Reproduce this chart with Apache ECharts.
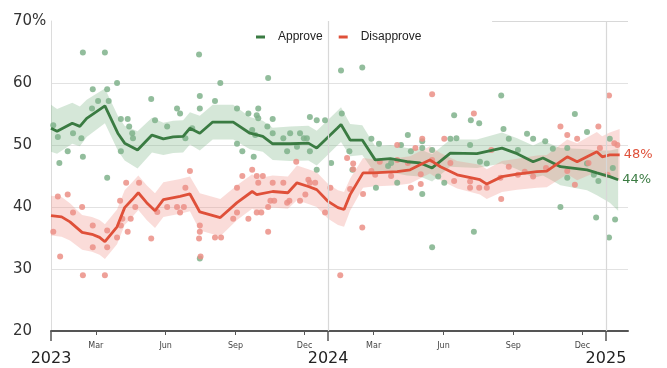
<!DOCTYPE html>
<html lang="en">
<head>
<meta charset="UTF-8" />
<title>Approve / Disapprove</title>
<script src="https://cdn.jsdelivr.net/npm/echarts@6/dist/echarts.min.js"></script>
<style>
  * { margin: 0; padding: 0; }
  html, body, #chart { width: 667px; height: 368px; background: #fff; overflow: hidden; }
</style>
</head>
<body>
<div id="chart"></div>
<script>
// trend lines (smoothed average) with half-width of the shaded band
const approveDates = ['2023-01-01','2023-01-09','2023-01-29','2023-02-08','2023-02-17','2023-03-13','2023-03-30','2023-04-08','2023-04-25','2023-05-14','2023-05-29','2023-06-11','2023-06-24','2023-07-03','2023-07-16','2023-08-02','2023-08-29','2023-09-20','2023-10-07','2023-10-20','2023-11-12','2023-12-06','2023-12-17','2023-12-28','2024-01-13','2024-01-18','2024-01-30','2024-02-15','2024-03-03','2024-03-23','2024-04-14','2024-05-01','2024-05-17','2024-06-10','2024-07-15','2024-08-17','2024-09-06','2024-09-27','2024-10-10','2024-11-02','2024-12-07','2024-12-20','2025-01-06','2025-01-17'];
const approveTrend = [52.7,52.2,53.5,53.0,54.3,56.3,51.9,50.3,49.2,51.6,51.0,51.3,51.4,52.7,51.9,53.7,53.7,51.9,51.4,50.2,50.2,50.3,49.5,50.8,52.7,53.3,50.8,50.8,47.6,47.8,47.3,47.1,46.3,48.7,48.6,49.5,48.6,47.3,47.9,46.5,46.0,45.5,44.9,44.4];
const approveBand = [3.8,3.6,3.3,3.2,3.0,2.8,2.8,2.8,3.0,2.8,2.6,2.6,2.6,2.6,2.8,2.8,2.8,2.6,2.5,2.6,2.8,2.8,2.8,2.8,2.8,2.8,2.6,2.4,2.2,2.2,2.2,2.2,2.2,2.2,2.3,2.5,2.5,2.6,2.8,3.0,3.3,3.6,4.2,5.0];

const disapproveDates = ['2023-01-01','2023-01-15','2023-01-26','2023-02-11','2023-02-24','2023-03-06','2023-03-13','2023-03-29','2023-04-08','2023-04-18','2023-04-26','2023-05-07','2023-05-18','2023-05-29','2023-06-20','2023-07-03','2023-07-16','2023-08-12','2023-09-03','2023-09-23','2023-09-29','2023-10-20','2023-11-09','2023-11-21','2023-12-06','2023-12-17','2024-01-01','2024-01-14','2024-01-22','2024-01-30','2024-02-16','2024-02-29','2024-04-01','2024-04-18','2024-05-01','2024-05-14','2024-05-28','2024-06-19','2024-07-19','2024-07-28','2024-08-17','2024-09-06','2024-10-02','2024-10-15','2024-11-11','2024-11-24','2024-12-20','2024-12-27','2025-01-06','2025-01-19'];
const disapproveTrend = [38.6,38.4,37.6,35.9,35.6,35.1,34.4,36.8,39.9,41.2,42.3,40.7,39.4,41.2,41.7,42.1,39.2,38.3,40.7,42.5,42.0,42.5,42.3,43.9,43.3,42.8,40.9,39.9,39.6,42.0,45.5,45.5,45.7,46.0,46.8,47.6,46.5,45.2,44.4,43.7,44.9,45.3,45.7,45.8,48.1,47.3,48.9,48.1,48.4,48.4];
const disapproveBand = [3.2,3.2,3.0,2.8,2.8,2.8,2.8,2.8,2.8,2.8,2.8,2.8,2.8,2.8,2.8,2.8,3.0,3.0,2.8,2.8,2.6,2.6,2.6,2.8,2.8,2.8,2.8,2.8,2.8,2.6,2.4,2.2,2.2,2.2,2.2,2.2,2.2,2.2,2.4,2.4,2.5,2.5,2.6,2.6,2.8,3.0,3.2,3.3,3.6,4.2];

// individual polls
const approvePolls = [
  ['2023-01-04',53.2],['2023-01-10',51.3],['2023-01-12',47.1],['2023-01-23',49.0],['2023-01-30',51.9],['2023-02-10',51.1],
  ['2023-02-12',64.9],['2023-02-12',48.1],['2023-02-24',55.9],['2023-02-25',59.0],['2023-03-04',57.1],['2023-03-13',64.9],
  ['2023-03-16',59.0],['2023-03-18',57.1],['2023-03-16',44.7],['2023-03-29',60.0],['2023-04-03',54.2],['2023-04-12',54.2],
  ['2023-04-14',53.0],['2023-04-18',51.9],['2023-04-19',51.1],['2023-04-03',49.0],['2023-05-13',57.4],['2023-05-18',54.0],
  ['2023-06-03',53.0],['2023-06-16',55.9],['2023-06-20',55.1],['2023-06-27',51.1],['2023-07-06',52.7],['2023-07-15',64.6],
  ['2023-07-16',57.9],['2023-07-16',55.9],['2023-07-16',31.7],['2023-08-05',57.1],['2023-08-12',60.0],['2023-09-03',55.9],
  ['2023-09-03',50.2],['2023-09-10',49.0],['2023-09-18',55.1],['2023-09-23',52.4],['2023-09-25',48.1],['2023-09-27',51.6],
  ['2023-09-29',54.8],['2023-10-01',55.9],['2023-10-01',54.3],['2023-10-13',53.0],['2023-10-14',60.8],['2023-10-20',54.2],
  ['2023-10-20',51.9],['2023-11-03',51.1],['2023-11-08',49.0],['2023-11-12',51.9],['2023-11-21',49.7],['2023-11-25',51.9],
  ['2023-11-30',51.1],['2023-12-04',51.1],['2023-12-08',54.5],['2023-12-08',49.0],['2023-12-17',54.0],['2023-12-17',46.0],
  ['2023-12-28',54.0],['2024-01-05',47.1],['2024-01-18',62.0],['2024-01-19',55.1],['2024-01-29',49.0],['2024-02-02',46.0],
  ['2024-02-15',62.5],['2024-02-27',51.0],['2024-03-04',43.1],['2024-03-08',50.2],['2024-03-20',46.6],['2024-03-24',47.1],
  ['2024-04-01',43.9],['2024-04-06',50.0],['2024-04-15',51.6],['2024-04-19',49.0],['2024-05-04',50.6],['2024-05-04',49.5],
  ['2024-05-04',42.1],['2024-05-17',49.2],['2024-05-17',33.5],['2024-05-25',44.9],['2024-06-02',43.9],['2024-06-10',51.0],
  ['2024-06-15',54.8],['2024-06-18',51.1],['2024-07-06',50.0],['2024-07-07',54.0],['2024-07-11',36.0],['2024-07-18',53.5],
  ['2024-07-19',47.3],['2024-07-28',47.0],['2024-08-16',58.0],['2024-08-19',52.6],['2024-08-26',51.0],['2024-09-07',49.2],
  ['2024-09-19',51.8],['2024-09-27',51.0],['2024-10-13',50.6],['2024-10-23',49.4],['2024-11-02',40.0],['2024-11-11',49.5],
  ['2024-11-11',44.7],['2024-11-21',55.0],['2024-12-07',52.1],['2024-12-07',47.0],['2024-12-16',45.2],['2024-12-19',38.3],
  ['2024-12-22',44.2],['2025-01-05',35.1],['2025-01-06',51.0],['2025-01-10',46.3],['2025-01-13',38.0]
];
const disapprovePolls = [
  ['2023-01-04',36.0],['2023-01-10',41.7],['2023-01-13',32.0],['2023-01-23',42.0],['2023-01-30',39.1],['2023-02-11',40.0],
  ['2023-02-12',29.0],['2023-02-25',37.0],['2023-02-25',33.5],['2023-03-13',29.0],['2023-03-16',36.2],['2023-03-16',33.5],
  ['2023-03-29',35.1],['2023-04-02',41.0],['2023-04-03',37.0],['2023-04-05',38.1],['2023-04-10',43.9],['2023-04-12',36.0],
  ['2023-04-16',38.1],['2023-04-22',40.0],['2023-04-27',43.9],['2023-05-13',34.9],['2023-05-21',39.2],['2023-06-03',40.0],
  ['2023-06-16',40.0],['2023-06-20',39.1],['2023-06-25',40.0],['2023-06-27',43.1],['2023-07-03',45.8],['2023-07-16',37.0],
  ['2023-07-16',36.0],['2023-07-15',34.9],['2023-07-17',32.0],['2023-08-05',35.1],['2023-08-13',35.1],['2023-08-29',38.1],
  ['2023-09-03',39.1],['2023-09-03',43.1],['2023-09-10',45.0],['2023-09-18',38.1],['2023-09-23',46.0],['2023-09-29',39.1],
  ['2023-09-29',45.0],['2023-10-01',43.9],['2023-10-05',39.1],['2023-10-07',45.0],['2023-10-14',36.0],['2023-10-14',40.0],
  ['2023-10-17',41.0],['2023-10-22',41.0],['2023-10-20',43.9],['2023-11-03',43.9],['2023-11-08',40.7],['2023-11-11',41.0],
  ['2023-11-20',47.3],['2023-11-25',41.0],['2023-12-02',42.0],['2023-12-06',44.4],['2023-12-08',43.9],['2023-12-15',43.9],
  ['2023-12-28',39.1],['2024-01-04',43.1],['2024-01-17',29.0],['2024-01-26',47.9],['2024-01-30',42.9],['2024-02-03',47.0],
  ['2024-02-03',46.1],['2024-02-15',36.7],['2024-02-16',42.1],['2024-02-27',45.8],['2024-03-03',45.2],['2024-03-09',47.3],
  ['2024-03-24',45.0],['2024-04-01',50.0],['2024-04-01',47.6],['2024-04-15',47.1],['2024-04-19',43.1],['2024-04-25',49.5],
  ['2024-05-02',45.3],['2024-05-02',43.7],['2024-05-04',51.0],['2024-05-17',58.2],['2024-05-17',47.6],['2024-06-02',51.0],
  ['2024-06-10',47.1],['2024-06-15',44.2],['2024-07-06',44.1],['2024-07-06',43.1],['2024-07-11',55.1],['2024-07-18',43.1],
  ['2024-07-28',43.1],['2024-08-03',49.2],['2024-08-15',44.7],['2024-08-16',41.3],['2024-08-26',46.5],['2024-09-07',45.2],
  ['2024-09-16',45.7],['2024-09-27',44.9],['2024-10-14',46.3],['2024-11-02',53.0],['2024-11-11',51.6],['2024-11-11',45.8],
  ['2024-11-21',43.6],['2024-11-24',51.0],['2024-12-09',47.1],['2024-12-22',53.0],['2024-12-24',49.5],['2025-01-03',45.2],
  ['2025-01-05',58.0],['2025-01-12',50.3],['2025-01-16',50.0]
];

const monthTicks = ['2023-03-01','2023-06-01','2023-09-01','2023-12-01','2024-03-01','2024-06-01','2024-09-01','2024-12-01'];
const yearTicks = ['2023-01-01','2024-01-01','2025-01-01'];
const xStart = '2023-01-01';
const xEnd = '2025-01-30';

const GREEN = '#3a7b42';
const RED = '#df5039';
const MONTHS = ['Jan','Feb','Mar','Apr','May','Jun','Jul','Aug','Sep','Oct','Nov','Dec'];

// dates -> UTC ms; the x axis is a plain value axis over these timestamps
function ts(s) {
  const p = s.split('-').map(Number);
  return Date.UTC(p[0], p[1] - 1, p[2]);
}

// shaded band: one polygon through the upper edge and back along the lower edge
function bandSeries(dates, trend, band, color) {
  const data = dates.map((d, i) => [ts(d), trend[i] - band[i], trend[i] + band[i]]);
  return {
    type: 'custom', silent: true, z: 1,
    encode: { x: 0, y: [1, 2] },
    data: data,
    renderItem: function (params, api) {
      if (params.dataIndexInside !== 0) return null;
      const pts = [];
      data.forEach((r) => pts.push(api.coord([r[0], r[2]])));
      for (let i = data.length - 1; i >= 0; i--) pts.push(api.coord([data[i][0], data[i][1]]));
      return { type: 'polygon', shape: { points: pts }, style: { fill: color } };
    }
  };
}

function trendSeries(name, dates, trend, color, extra) {
  return Object.assign({
    name: name, type: 'line', symbol: 'none', z: 4,
    data: dates.map((d, i) => [ts(d), trend[i]]),
    lineStyle: { color: color, width: 2.8 },
    itemStyle: { color: color },
    endLabel: {
      show: true, distance: 4,
      formatter: (p) => Math.round(p.value[1]) + '%',
      color: color, fontFamily: 'DejaVu Sans', fontSize: 13
    }
  }, extra || {});
}

const chart = echarts.init(document.getElementById('chart'));

const option = {
  animation: false,
  backgroundColor: '#fff',
  grid: { left: 51, right: 39, top: 21, bottom: 37 },
  legend: {
    data: ['Approve', 'Disapprove'],
    top: 27, left: 252,
    icon: 'rect', itemWidth: 9, itemHeight: 3, itemGap: 16,
    backgroundColor: '#fff', padding: [4, 4],
    textStyle: { fontFamily: 'Liberation Sans', fontSize: 12, color: '#222', padding: [0, 0, 0, 8] }
  },
  xAxis: [
    {
      type: 'value', min: ts(xStart), max: ts(xEnd),
      axisLine: { lineStyle: { color: '#555', width: 2 } },
      axisTick: { customValues: monthTicks.map(ts), length: 4, lineStyle: { color: '#555' } },
      axisLabel: {
        customValues: monthTicks.map(ts), margin: 11,
        fontFamily: 'DejaVu Sans', fontSize: 8, color: '#444',
        formatter: (v) => MONTHS[new Date(v).getUTCMonth()]
      },
      splitLine: { show: false }
    },
    {
      type: 'value', position: 'bottom', offset: 0, min: ts(xStart), max: ts(xEnd),
      axisLine: { show: false },
      axisTick: { customValues: yearTicks.map(ts), length: 10, lineStyle: { color: '#555', width: 1.5 } },
      axisLabel: {
        customValues: yearTicks.map(ts), margin: 20,
        fontFamily: 'DejaVu Sans', fontSize: 16, color: '#222',
        formatter: (v) => String(new Date(v).getUTCFullYear())
      },
      splitLine: { show: false }
    }
  ],
  yAxis: {
    type: 'value', min: 20, max: 70, interval: 10,
    axisLine: { show: true, lineStyle: { color: '#dcdcdc' } },
    axisTick: { show: false },
    axisLabel: {
      margin: 38, align: 'left', padding: [3, 0, 0, 0],
      fontFamily: 'DejaVu Sans', fontSize: 15, color: '#333',
      formatter: (v) => (v === 70 ? '70%' : String(v))
    },
    splitLine: { showMaxLine: false, lineStyle: { color: '#e2e2e2', width: 1.2 } }
  },
  series: [
    bandSeries(approveDates, approveTrend, approveBand, 'rgba(128,182,138,0.33)'),
    bandSeries(disapproveDates, disapproveTrend, disapproveBand, 'rgba(238,140,128,0.30)'),
    {
      name: 'approve polls', type: 'scatter', symbolSize: 6, z: 2,
      data: approvePolls.map((p) => [ts(p[0]), p[1]]),
      itemStyle: { color: '#7fb28b', opacity: 0.85 }
    },
    {
      name: 'disapprove polls', type: 'scatter', symbolSize: 6, z: 2,
      data: disapprovePolls.map((p) => [ts(p[0]), p[1]]),
      itemStyle: { color: '#eb8f86', opacity: 0.85 }
    },
    trendSeries('Approve', approveDates, approveTrend, GREEN, {
      markLine: {
        silent: true, symbol: 'none', label: { show: false },
        lineStyle: { color: '#d8d8d8', width: 1.2, type: 'solid' },
        data: [
          { xAxis: ts(yearTicks[1]) },
          { xAxis: ts(yearTicks[2]) },
          [{ coord: [ts('2024-08-04'), 70] }, { coord: [ts(xEnd), 70] }]
        ]
      }
    }),
    trendSeries('Disapprove', disapproveDates, disapproveTrend, RED)
  ]
};

chart.setOption(option);
</script>
</body>
</html>
